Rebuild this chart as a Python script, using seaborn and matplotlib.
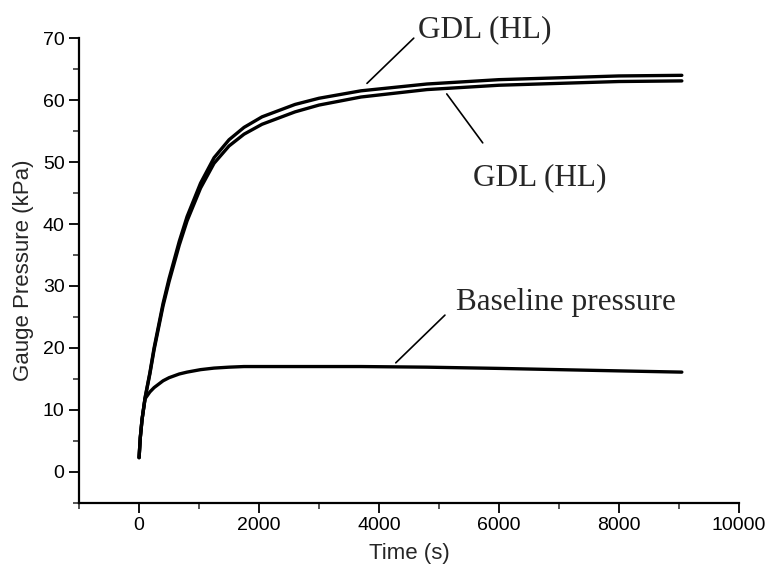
import pandas as pd
import numpy as np
import matplotlib.pyplot as plt
import seaborn as sns
from matplotlib.ticker import MultipleLocator

# valores
tempo = [0, 20, 50, 100, 180, 250, 400, 500, 670, 800, 1025, 1250, 1500, 1750,
         2050, 2600, 3000, 3700, 4800, 6000, 7000, 8000, 9050]
gdl_sup = [2.3, 5.5, 8.5, 12, 16, 20, 27.2, 31.2, 37.2, 41.2, 46.6, 50.7, 53.6, 55.6,
           57.3, 59.3, 60.3, 61.5, 62.6, 63.3, 63.6, 63.9, 64.0]
gdl_inf = [2.3, 5.5, 8.5, 11.9, 15.8, 19.7, 26.8, 30.7, 36.6, 40.5, 45.8, 49.8, 52.6, 54.5,
           56.1, 58.1, 59.2, 60.5, 61.7, 62.4, 62.7, 63.0, 63.1]
base_p = [2.3, 5.5, 8.5, 11.8, 12.9, 13.6, 14.7, 15.2, 15.8, 16.1, 16.5, 16.75, 16.9, 17.0,
          17.0, 17.0, 17.0, 17.0, 16.9, 16.7, 16.5, 16.3, 16.1]

base = pd.DataFrame({'tempo': tempo, 'sup': gdl_sup, 'inf': gdl_inf, 'base': base_p})

sns.set_style('ticks')
plt.rcParams['font.family'] = ['Liberation Sans', 'DejaVu Sans']

fig = plt.figure(figsize=(7.68, 5.78), dpi=100)
ax = fig.add_axes([0.103, 0.130, 0.859, 0.804])

for col in ['sup', 'inf', 'base']:
    sns.lineplot(data=base, x='tempo', y=col, color='black', linewidth=2.4, ax=ax)

ax.set_xlim(-1000, 10000)
ax.set_ylim(-5, 70)
ax.xaxis.set_major_locator(MultipleLocator(2000))
ax.xaxis.set_minor_locator(MultipleLocator(1000))
ax.yaxis.set_major_locator(MultipleLocator(10))
ax.yaxis.set_minor_locator(MultipleLocator(5))
ax.tick_params(which='major', length=7, width=1.3, labelsize=14, colors='black')
ax.tick_params(which='minor', length=4, width=1.1)
ax.set_xlabel('Time (s)', fontsize=16, labelpad=6)
ax.set_ylabel('Gauge Pressure (kPa)', fontsize=16, labelpad=6)
sns.despine(ax=ax)
for s in ['left', 'bottom']:
    ax.spines[s].set_linewidth(1.6)
    ax.spines[s].set_color('black')

# rotulos com linhas de chamada
serif = ['Liberation Serif', 'DejaVu Serif']
rotulos = [
    ('GDL (HL)', (3800, 62.7), (4580, 70.0), (4650, 70.2)),
    ('GDL (HL)', (5130, 61.0), (5730, 53.1), (5570, 46.3)),
    ('Baseline pressure', (4280, 17.6), (5100, 25.3), (5280, 26.1)),
]
for txt, p0, p1, pt in rotulos:
    ax.annotate('', xy=p0, xytext=p1, annotation_clip=False,
                arrowprops=dict(arrowstyle='-', color='black', lw=1.2,
                                shrinkA=0, shrinkB=0))
    ax.text(pt[0], pt[1], txt, family=serif, fontsize=22.5, ha='left', va='baseline',
            clip_on=False)

fig.savefig('out.png', dpi=100)
